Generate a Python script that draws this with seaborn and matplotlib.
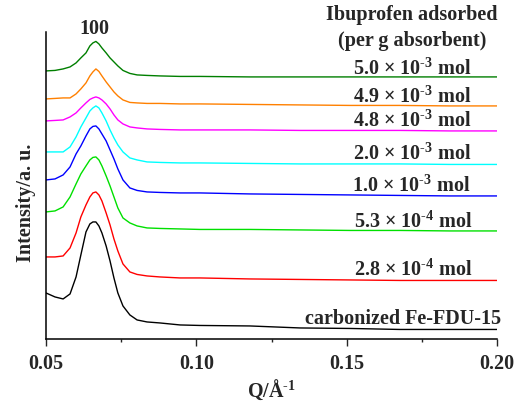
import numpy as np
import pandas as pd
import matplotlib
matplotlib.use("Agg")
import matplotlib.pyplot as plt
import seaborn as sns
from matplotlib import font_manager
from matplotlib.ticker import MultipleLocator, FormatStrFormatter

# Q values (1/A) shared by all the traces
q = [0.0500, 0.0530, 0.0557, 0.0580, 0.0600, 0.0616, 0.0633, 0.0646, 0.0656,
     0.0666, 0.0676, 0.0686, 0.0700, 0.0713, 0.0726, 0.0739, 0.0756, 0.0779,
     0.0803, 0.0836, 0.0879, 0.0946, 0.1012, 0.1178, 0.1345, 0.1511, 0.1677,
     0.1844, 0.2000]

# stacked intensities (offset included)
fdu15 = [46, 42, 40, 45, 62, 84, 107, 115, 117, 117, 113, 106, 93, 78, 61, 46,
         33, 24, 19, 17, 16, 14, 13.5, 13, 11, 10.5, 9.5, 9.5, 9.5]
ibu_28e4 = [82, 82, 83, 91, 106, 122, 134, 142, 146, 147, 144, 138, 126, 114,
            100, 88, 75, 67, 64.5, 63, 62, 61, 61, 60, 59.5, 59, 58.5, 58.5, 58.5]
ibu_53e4 = [127, 128, 132, 142, 155, 165, 173, 179, 181.5, 182, 179, 173, 163,
            153, 142, 131, 121, 116, 113, 111, 110.5, 110, 109.5, 109.5, 109,
            108.5, 108.5, 108, 108]
ibu_10e3 = [159, 160, 164, 172, 185, 193, 203, 210, 212.5, 213, 210, 205, 198,
            189, 180, 170, 159, 151, 148.5, 147, 146.5, 146, 146, 145, 144.5,
            144, 143.5, 143, 143]
ibu_20e3 = [187, 187, 187, 192, 202, 212, 221, 228, 231, 233, 231, 226, 218,
            209, 201, 194, 187, 181, 179, 177, 176.5, 176, 176, 175.5, 175, 175,
            175, 174.5, 174.5]
ibu_48e3 = [218, 218.5, 219, 222, 226, 231, 236, 239.5, 241, 242, 241, 239, 235,
            230, 224, 219, 215, 212, 211, 210, 209.5, 209, 209, 209, 208.5,
            208.5, 208.5, 208, 208]
ibu_49e3 = [240, 240.5, 241, 241, 245, 250, 256, 263, 267, 270, 267.5, 263, 257,
            252, 247, 243, 239, 236.5, 236, 235.5, 235.5, 235, 235, 234.5, 234,
            233.5, 233.5, 233, 233]
ibu_50e3 = [268, 268.5, 270, 272, 276, 281, 286, 293, 296, 297.5, 295, 291, 286,
            281, 277, 273, 268.5, 265.5, 264, 263.5, 263, 262.5, 262.5, 262, 262,
            262, 262, 262, 262]

names = ["fdu15", "2.8e-4", "5.3e-4", "1.0e-3", "2.0e-3", "4.8e-3", "4.9e-3", "5.0e-3"]
series = [fdu15, ibu_28e4, ibu_53e4, ibu_10e3, ibu_20e3, ibu_48e3, ibu_49e3, ibu_50e3]
colors = ["black", "#ff0000", "#00e000", "#0000ff", "#00ffff", "#ff00ff", "#ff8000", "#007f00"]

labels = [r"carbonized Fe-FDU-15",
          r"2.8 × 10$^{\text{-4}}$ mol",
          r"5.3 × 10$^{\text{-4}}$ mol",
          r"1.0 × 10$^{\text{-3}}$ mol",
          r"2.0 × 10$^{\text{-3}}$ mol",
          r"4.8 × 10$^{\text{-3}}$ mol",
          r"4.9 × 10$^{\text{-3}}$ mol",
          r"5.0 × 10$^{\text{-3}}$ mol"]
label_x = [0.1688, 0.1720, 0.1720, 0.1715, 0.1718, 0.1718, 0.1718, 0.1718]
label_y = [20, 69, 117, 153, 185, 218, 242, 270]

df = pd.concat([pd.DataFrame({"q": q, "I": s, "sample": n}) for n, s in zip(names, series)])

# pick a serif family that really has a bold face
serif = "Liberation Serif"
for fam in ["Liberation Serif", "DejaVu Serif"]:
    path = font_manager.findfont(font_manager.FontProperties(family=fam, weight="bold"),
                                 fallback_to_default=False)
    if "bold" in path.lower():
        serif = fam
        break

sns.set_style("ticks")
plt.rcParams["font.family"] = [serif, "DejaVu Serif"]
plt.rcParams["font.weight"] = "bold"
plt.rcParams["mathtext.fontset"] = "custom"
plt.rcParams["mathtext.rm"] = serif + ":bold"
plt.rcParams["mathtext.it"] = serif + ":bold"
plt.rcParams["mathtext.bf"] = serif + ":bold"
plt.rcParams["mathtext.default"] = "rm"

fs = 14.5

fig = plt.figure(figsize=(5.31, 4.04), dpi=100)
ax = fig.add_axes([0.0866, 0.161, 0.8494, 0.760])

sns.lineplot(data=df, x="q", y="I", hue="sample", palette=dict(zip(names, colors)),
             estimator=None, sort=False, linewidth=1.0, legend=False, ax=ax)

ax.set_xlim(0.05, 0.20)
ax.set_ylim(0, 307)
ax.xaxis.set_major_locator(MultipleLocator(0.05))
ax.xaxis.set_minor_locator(MultipleLocator(0.025))
ax.xaxis.set_major_formatter(FormatStrFormatter("%.2f"))
ax.set_yticks([])
ax.tick_params(axis="x", which="major", length=5, width=1, labelsize=fs, pad=5.5)
ax.tick_params(axis="x", which="minor", length=2.5, width=1)
for t in ax.get_xticklabels():
    t.set_fontweight("bold")
sns.despine(ax=ax)
for sp in ["left", "bottom"]:
    ax.spines[sp].set_linewidth(1.1)
    ax.spines[sp].set_color("black")

ax.set_xlabel(r"Q/Å$^{\text{-1}}$", fontsize=fs, fontweight="bold")
ax.set_ylabel("Intensity/a. u.", fontsize=fs, fontweight="bold")
ax.yaxis.set_label_coords(-0.022, 0.445)
ax.xaxis.set_label_coords(0.5, -0.125)

for txt, x, y in zip(labels, label_x, label_y):
    ax.text(x, y, txt, ha="center", va="center", fontsize=fs, fontweight="bold")

ax.text(0.1717, 324, "Ibuprofen adsorbed", ha="center", va="center",
        fontsize=fs, fontweight="bold")
ax.text(0.1717, 298, "(per g absorbent)", ha="center", va="center",
        fontsize=fs, fontweight="bold")
ax.text(0.0660, 310, "100", ha="center", va="center", fontsize=fs, fontweight="bold")

fig.savefig("out.png", dpi=100)
